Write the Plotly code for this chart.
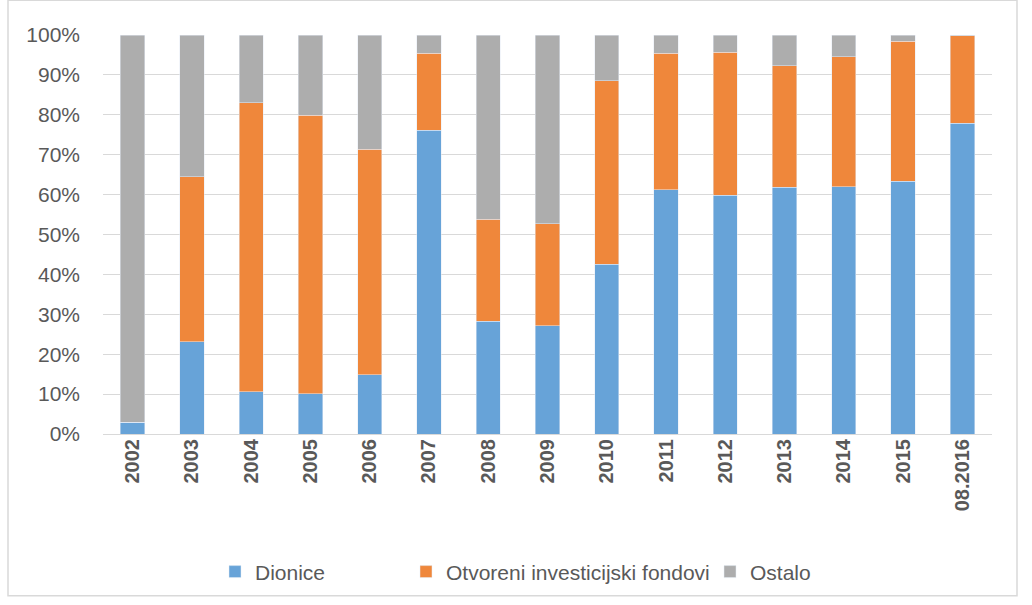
import plotly.graph_objects as go

categories = ["2002", "2003", "2004", "2005", "2006", "2007", "2008", "2009",
              "2010", "2011", "2012", "2013", "2014", "2015", "08.2016"]
dionice = [2.9, 23.1, 10.6, 10.1, 14.8, 76.1, 28.2, 27.1, 42.5, 61.2, 59.9, 61.8, 62.0, 63.4, 77.9]
fondovi_top = [2.9, 64.5, 83.0, 79.9, 71.4, 95.4, 53.8, 52.7, 88.5, 95.4, 95.7, 92.3, 94.5, 98.4, 99.8]
fondovi = [round(t - d, 2) for t, d in zip(fondovi_top, dionice)]
ostalo = [round(100 - t, 2) for t in fondovi_top]

FONT = "Liberation Sans Narrow, Arial Narrow, Liberation Sans, sans-serif"
L, R, T, B = 103, 40, 35, 168
PW, PH = 1032 - L - R, 605 - T - B


def px_x(p):
    return (p - L) / PW


def px_y(p):
    return (605 - B - p) / PH


fig = go.Figure()
fig.add_trace(go.Bar(x=categories, y=dionice, name="Dionice", marker_color="#67a3d8",
                     legend="legend"))
fig.add_trace(go.Bar(x=categories, y=fondovi, name="Otvoreni investicijski fondovi",
                     marker_color="#ef873b", legend="legend2"))
fig.add_trace(go.Bar(x=categories, y=ostalo, name="Ostalo", marker_color="#adadad",
                     legend="legend3"))

leg_common = dict(orientation="h", yanchor="middle", xanchor="left", y=px_y(576),
                  font=dict(size=21, color="#595959"), itemwidth=30,
                  bgcolor="rgba(0,0,0,0)")

fig.update_layout(
    barmode="stack",
    bargap=0.59,
    width=1032, height=605,
    margin=dict(l=L, r=R, t=T, b=B),
    paper_bgcolor="white", plot_bgcolor="white",
    font=dict(family=FONT, color="#595959", size=18),
    showlegend=True,
    legend=dict(x=px_x(215), **leg_common),
    legend2=dict(x=px_x(406), **leg_common),
    legend3=dict(x=px_x(710), **leg_common),
    xaxis=dict(tickangle=-90, tickfont=dict(size=20, color="#595959", family=FONT),
               showgrid=False, showline=False, ticks=""),
    yaxis=dict(range=[0, 100], dtick=10, ticksuffix="%", showgrid=True, gridcolor="#d9d9d9",
               gridwidth=1.3, zeroline=True, zerolinecolor="#d9d9d9", zerolinewidth=1.3,
               tickfont=dict(size=21, color="#595959", family=FONT), ticks="",
               ticklabelstandoff=22),
    shapes=[dict(type="rect", xref="paper", yref="paper",
                 x0=px_x(8), x1=px_x(1017), y0=px_y(600), y1=px_y(0),
                 line=dict(color="#d9d9d9", width=1.5), fillcolor="rgba(0,0,0,0)")],
)

# bold x tick labels
fig.update_xaxes(ticktext=[f"<b>{c}</b>" for c in categories], tickvals=categories)

fig.write_html("out.html", config={"displayModeBar": False},
               post_script="document.body.style.margin='0';document.body.style.overflow='hidden';")
